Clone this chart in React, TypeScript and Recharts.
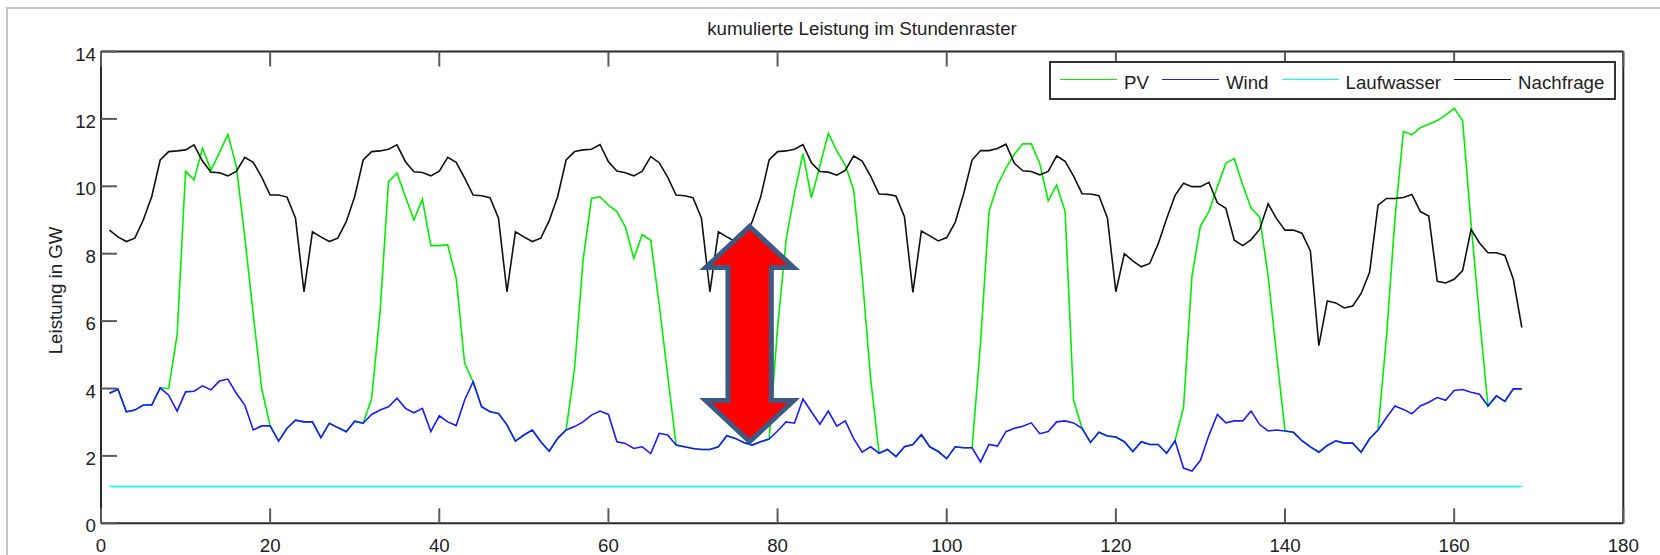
import { LineChart, Line, XAxis, YAxis, ReferenceArea } from "recharts";

const FONT = "'Liberation Sans', Arial, Helvetica, sans-serif";
const TEXT = "#222";
const TICK = "#5a5a5a";
const AXIS = "#2a2a2a";
const FS = 18.7;

// hours of the week (x values)
const HOURS = Array.from({ length: 168 }, (_, i) => i + 1);

const X_TICKS = [0, 20, 40, 60, 80, 100, 120, 140, 160, 180];
const Y_TICKS = [0, 2, 4, 6, 8, 10, 12, 14];

// PV (cumulated on top of wind, so at night it sits on the wind line)
const PV = [
  3.86, 3.98, 3.31, 3.36, 3.51, 3.51, 4.02, 4.0, 5.59, 10.45, 10.19, 11.13, 10.48, 11.0, 11.54, 10.6, 8.5, 6.2, 4.0, 2.89, 2.44, 2.82, 3.06, 3.01,
  3.01, 2.54, 2.97, 2.84, 2.72, 3.03, 2.97, 3.7, 6.28, 10.14, 10.39, 9.69, 9.0, 9.62, 8.24, 8.24, 8.26, 7.27, 4.75, 4.2, 3.46, 3.31, 3.26, 2.92,
  2.44, 2.62, 2.77, 2.42, 2.14, 2.52, 2.77, 4.6, 7.8, 9.64, 9.69, 9.44, 9.25, 8.8, 7.86, 8.57, 8.4, 6.5, 4.4, 2.32, 2.27, 2.22, 2.19, 2.19,
  2.27, 2.6, 2.52, 2.4, 2.32, 2.42, 2.5, 5.8, 8.4, 9.8, 10.97, 9.66, 10.6, 11.57, 11.05, 10.63, 9.89, 7.36, 4.3, 2.08, 2.19, 1.98, 2.27, 2.34,
  2.63, 2.27, 2.13, 1.92, 2.27, 2.24, 2.24, 5.35, 9.25, 10.04, 10.54, 10.95, 11.26, 11.26, 10.68, 9.57, 10.04, 9.25, 3.65, 2.82, 2.4, 2.7, 2.59, 2.56,
  2.42, 2.13, 2.42, 2.34, 2.34, 2.08, 2.45, 3.44, 7.34, 8.82, 9.25, 9.99, 10.68, 10.82, 10.04, 9.35, 9.09, 7.34, 5.01, 2.74, 2.7, 2.45, 2.27, 2.11,
  2.31, 2.45, 2.38, 2.38, 2.11, 2.51, 2.77, 5.54, 9.04, 11.63, 11.53, 11.74, 11.84, 11.95, 12.11, 12.32, 11.95, 8.9, 6.1, 3.48, 3.78, 3.62, 3.99, 3.99,
];

const WIND = [
  3.86, 3.98, 3.31, 3.36, 3.51, 3.51, 4.02, 3.8, 3.33, 3.9, 3.92, 4.08, 3.96, 4.22, 4.28, 3.86, 3.51, 2.77, 2.89, 2.89, 2.44, 2.82, 3.06, 3.01,
  3.01, 2.54, 2.97, 2.84, 2.72, 3.03, 2.97, 3.23, 3.36, 3.46, 3.71, 3.41, 3.28, 3.41, 2.72, 3.19, 3.01, 2.9, 3.66, 4.2, 3.46, 3.31, 3.26, 2.92,
  2.44, 2.62, 2.77, 2.42, 2.14, 2.52, 2.77, 2.87, 3.01, 3.21, 3.33, 3.23, 2.42, 2.37, 2.22, 2.27, 2.07, 2.67, 2.62, 2.32, 2.27, 2.22, 2.19, 2.19,
  2.27, 2.6, 2.52, 2.4, 2.32, 2.42, 2.5, 2.74, 3.01, 2.97, 3.69, 3.31, 2.94, 3.33, 2.88, 3.04, 2.51, 2.11, 2.27, 2.08, 2.19, 1.98, 2.27, 2.34,
  2.63, 2.27, 2.13, 1.92, 2.27, 2.24, 2.24, 1.82, 2.34, 2.29, 2.72, 2.82, 2.88, 2.98, 2.66, 2.72, 3.01, 3.04, 2.98, 2.82, 2.4, 2.7, 2.59, 2.56,
  2.42, 2.13, 2.42, 2.34, 2.34, 2.08, 2.45, 1.64, 1.55, 1.87, 2.61, 3.23, 2.98, 3.04, 3.04, 3.33, 2.93, 2.74, 2.77, 2.74, 2.7, 2.45, 2.27, 2.11,
  2.31, 2.45, 2.38, 2.38, 2.11, 2.51, 2.77, 3.14, 3.48, 3.38, 3.25, 3.48, 3.59, 3.73, 3.65, 3.94, 3.97, 3.89, 3.83, 3.48, 3.78, 3.62, 3.99, 3.99,
];

const LAUFWASSER = [
  1.09, 1.09, 1.09, 1.09, 1.09, 1.09, 1.09, 1.09, 1.09, 1.09, 1.09, 1.09, 1.09, 1.09, 1.09, 1.09, 1.09, 1.09, 1.09, 1.09, 1.09, 1.09, 1.09, 1.09,
  1.09, 1.09, 1.09, 1.09, 1.09, 1.09, 1.09, 1.09, 1.09, 1.09, 1.09, 1.09, 1.09, 1.09, 1.09, 1.09, 1.09, 1.09, 1.09, 1.09, 1.09, 1.09, 1.09, 1.09,
  1.09, 1.09, 1.09, 1.09, 1.09, 1.09, 1.09, 1.09, 1.09, 1.09, 1.09, 1.09, 1.09, 1.09, 1.09, 1.09, 1.09, 1.09, 1.09, 1.09, 1.09, 1.09, 1.09, 1.09,
  1.09, 1.09, 1.09, 1.09, 1.09, 1.09, 1.09, 1.09, 1.09, 1.09, 1.09, 1.09, 1.09, 1.09, 1.09, 1.09, 1.09, 1.09, 1.09, 1.09, 1.09, 1.09, 1.09, 1.09,
  1.09, 1.09, 1.09, 1.09, 1.09, 1.09, 1.09, 1.09, 1.09, 1.09, 1.09, 1.09, 1.09, 1.09, 1.09, 1.09, 1.09, 1.09, 1.09, 1.09, 1.09, 1.09, 1.09, 1.09,
  1.09, 1.09, 1.09, 1.09, 1.09, 1.09, 1.09, 1.09, 1.09, 1.09, 1.09, 1.09, 1.09, 1.09, 1.09, 1.09, 1.09, 1.09, 1.09, 1.09, 1.09, 1.09, 1.09, 1.09,
  1.09, 1.09, 1.09, 1.09, 1.09, 1.09, 1.09, 1.09, 1.09, 1.09, 1.09, 1.09, 1.09, 1.09, 1.09, 1.09, 1.09, 1.09, 1.09, 1.09, 1.09, 1.09, 1.09, 1.09,
];

const NACHFRAGE = [
  8.7, 8.5, 8.36, 8.46, 9.0, 9.7, 10.78, 11.03, 11.05, 11.08, 11.23, 10.75, 10.42, 10.4, 10.31, 10.44, 10.86, 10.71, 10.27, 9.74, 9.74, 9.68, 9.05, 6.87,
  8.65, 8.5, 8.36, 8.46, 8.95, 9.7, 10.78, 11.03, 11.05, 11.1, 11.23, 10.73, 10.43, 10.41, 10.31, 10.45, 10.86, 10.71, 10.24, 9.74, 9.72, 9.66, 9.05, 6.87,
  8.65, 8.5, 8.36, 8.46, 8.98, 9.7, 10.78, 11.03, 11.08, 11.1, 11.24, 10.73, 10.45, 10.4, 10.31, 10.45, 10.88, 10.7, 10.27, 9.74, 9.72, 9.66, 9.05, 6.87,
  8.65, 8.5, 8.36, 8.46, 8.95, 9.68, 10.78, 11.03, 11.05, 11.1, 11.24, 10.7, 10.44, 10.42, 10.33, 10.47, 10.9, 10.75, 10.3, 9.77, 9.76, 9.71, 9.1, 6.85,
  8.67, 8.53, 8.38, 8.48, 8.93, 9.78, 10.78, 11.06, 11.06, 11.12, 11.25, 10.68, 10.46, 10.44, 10.34, 10.44, 10.9, 10.74, 10.3, 9.78, 9.77, 9.72, 9.06, 6.87,
  8.0, 7.79, 7.61, 7.71, 8.29, 9.04, 9.73, 10.09, 9.99, 9.99, 10.12, 9.51, 9.35, 8.4, 8.24, 8.42, 8.72, 9.48, 9.04, 8.7, 8.7, 8.61, 8.08, 5.27,
  6.6, 6.54, 6.39, 6.45, 6.82, 7.45, 9.44, 9.64, 9.64, 9.67, 9.76, 9.25, 9.12, 7.18, 7.13, 7.24, 7.5, 8.72, 8.32, 8.03, 8.03, 7.95, 7.24, 5.81,
];

const SERIES = [
  { key: "pv", name: "PV", color: "#00ee00" },
  { key: "wind", name: "Wind", color: "#1a1aff" },
  { key: "lauf", name: "Laufwasser", color: "#00ffff" },
  { key: "demand", name: "Nachfrage", color: "#111111" },
];

// annotation arrow, in data units
const ARROW_X = [71.2, 82.2];
const ARROW_Y = [2.35, 8.88];

const data = HOURS.map((hour, i) => ({
  hour,
  pv: PV[i],
  wind: WIND[i],
  lauf: LAUFWASSER[i],
  demand: NACHFRAGE[i],
}));

function BottomTick(props: any) {
  const { x, y, payload } = props;
  return (
    <g>
      <line x1={x} x2={x} y1={y} y2={y - 15} stroke={TICK} strokeWidth={2} />
      <text x={x} y={y + 28.4} textAnchor="middle" fontSize={FS} fill={TEXT} fontFamily={FONT}>
        {payload.value}
      </text>
    </g>
  );
}

function TopTick(props: any) {
  const { x, y } = props;
  return <line x1={x} x2={x} y1={y} y2={y + 15} stroke={TICK} strokeWidth={2} />;
}

function LeftTick(props: any) {
  const { x, y, payload } = props;
  return (
    <g>
      <line x1={x} x2={x + 16} y1={y} y2={y} stroke={TICK} strokeWidth={2} />
      <text x={x - 5} y={y + 9} textAnchor="end" fontSize={FS} fill={TEXT} fontFamily={FONT}>
        {payload.value}
      </text>
    </g>
  );
}

function RightTick(props: any) {
  const { x, y } = props;
  return <line x1={x} x2={x - 16} y1={y} y2={y} stroke={TICK} strokeWidth={2} />;
}

function YLabel(props: any) {
  const vb = props.viewBox || {};
  const cx = vb.x + vb.width - 45;
  const cy = vb.y + vb.height / 2 + 3;
  return (
    <text
      x={cx}
      y={cy}
      transform={`rotate(-90 ${cx} ${cy})`}
      textAnchor="middle"
      dominantBaseline="central"
      fontSize={FS}
      fill={TEXT}
      fontFamily={FONT}
    >
      Leistung in GW
    </text>
  );
}

function Arrow(props: any) {
  const { x, y, width: w, height: h } = props;
  const s = 2.5;
  const cx = x + w / 2;
  const hh = h * 0.198;
  const half = w * 0.26 - s;
  const pts = [
    [cx, y + s],
    [x + w - s, y + hh],
    [cx + half, y + hh],
    [cx + half, y + h - hh],
    [x + w - s, y + h - hh],
    [cx, y + h - s],
    [x + s, y + h - hh],
    [cx - half, y + h - hh],
    [cx - half, y + hh],
    [x + s, y + hh],
  ];
  return (
    <polygon
      points={pts.map((p) => p.join(",")).join(" ")}
      fill="#ff0000"
      stroke="#3c5a82"
      strokeWidth={5}
      strokeLinejoin="miter"
    />
  );
}

function LegendBox() {
  return (
    <div
      style={{
        position: "absolute",
        left: 1049,
        top: 61,
        width: 567,
        height: 39,
        boxSizing: "border-box",
        border: "2px solid #333",
        background: "#fff",
        display: "flex",
        alignItems: "center",
        paddingLeft: 9,
        fontFamily: FONT,
        fontSize: FS,
        color: TEXT,
      }}
    >
      {SERIES.map((s) => (
        <span key={s.key} style={{ display: "flex", alignItems: "center", marginRight: 13 }}>
          <span
            style={{
              display: "inline-block",
              width: 57,
              height: 0,
              borderTop: `1.6px solid ${s.color}`,
              marginRight: 7,
              position: "relative",
              top: -1,
            }}
          />
          <span style={{ position: "relative", top: 2, lineHeight: "21px" }}>{s.name}</span>
        </span>
      ))}
    </div>
  );
}

export default function App() {
  return (
    <div
      style={{
        position: "absolute",
        left: 0,
        top: 0,
        width: 1660,
        height: 555,
        overflow: "hidden",
        background: "#fff",
      }}
    >
      <svg width={1660} height={555} style={{ position: "absolute", left: 0, top: 0 }}>
        <line x1={7} y1={8} x2={7} y2={555} stroke="#c4c4c4" strokeWidth={2} />
        <line x1={6} y1={8} x2={1660} y2={8} stroke="#c4c4c4" strokeWidth={2} />
        <text x={862} y={34.5} textAnchor="middle" fontSize={FS} fill={TEXT} fontFamily={FONT}>
          kumulierte Leistung im Stundenraster
        </text>
      </svg>
      <div style={{ position: "absolute", left: 0, top: 0 }}>
        <LineChart
          width={1660}
          height={555}
          data={data}
          margin={{ top: 41.5, right: 26.7, bottom: 1.7, left: 41 }}
        >
          <XAxis
            xAxisId="b"
            dataKey="hour"
            type="number"
            domain={[0, 180]}
            ticks={X_TICKS}
            interval={0}
            height={30}
            tickSize={0}
            tickMargin={0}
            tickLine={false}
            axisLine={{ stroke: AXIS, strokeWidth: 2 }}
            tick={<BottomTick />}
          />
          <XAxis
            xAxisId="t"
            orientation="top"
            dataKey="hour"
            type="number"
            domain={[0, 180]}
            ticks={X_TICKS}
            interval={0}
            height={10}
            tickSize={0}
            tickMargin={0}
            tickLine={false}
            axisLine={{ stroke: AXIS, strokeWidth: 2 }}
            tick={<TopTick />}
          />
          <YAxis
            yAxisId="l"
            type="number"
            domain={[0, 14]}
            ticks={Y_TICKS}
            interval={0}
            width={60}
            tickSize={0}
            tickMargin={0}
            tickLine={false}
            axisLine={{ stroke: AXIS, strokeWidth: 2 }}
            tick={<LeftTick />}
            label={{ content: (p: any) => <YLabel {...p} /> }}
          />
          <YAxis
            yAxisId="r"
            orientation="right"
            type="number"
            domain={[0, 14]}
            ticks={Y_TICKS}
            interval={0}
            width={10}
            tickSize={0}
            tickMargin={0}
            tickLine={false}
            axisLine={{ stroke: AXIS, strokeWidth: 2 }}
            tick={<RightTick />}
          />
          {SERIES.map((s) => (
            <Line
              key={s.key}
              xAxisId="b"
              yAxisId="l"
              type="linear"
              dataKey={s.key}
              name={s.name}
              stroke={s.color}
              strokeWidth={1.6}
              dot={false}
              activeDot={false}
              isAnimationActive={false}
            />
          ))}
          <ReferenceArea
            xAxisId="b"
            yAxisId="l"
            x1={ARROW_X[0]}
            x2={ARROW_X[1]}
            y1={ARROW_Y[0]}
            y2={ARROW_Y[1]}
            ifOverflow="visible"
            shape={(p: any) => <Arrow {...p} />}
            zIndex={1500}
          />
        </LineChart>
      </div>
      <LegendBox />
    </div>
  );
}
